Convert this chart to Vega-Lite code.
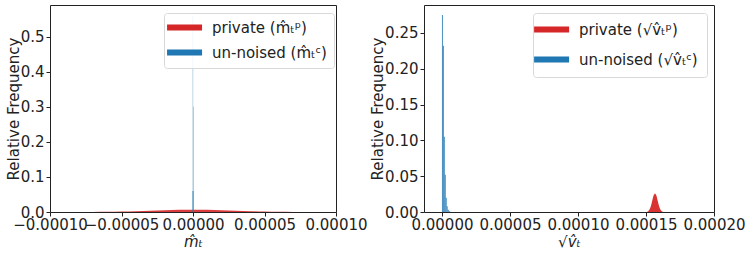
{
  "$schema": "https://vega.github.io/schema/vega-lite/v6.json",
  "padding": {"left": 5, "top": 4, "right": 0, "bottom": 0},
  "background": "white",
  "config": {
    "font": "DejaVu Sans",
    "view": {"stroke": "#222", "strokeWidth": 1},
    "axis": {"grid": false, "domain": false, "tickColor": "#222", "tickSize": 4, "labelFontSize": 15, "titleFontSize": 15, "labelColor": "#222", "titleColor": "#222", "titleFontWeight": "normal", "labelFlush": false, "labelOverlap": false},
    "legend": {"labelFontSize": 15, "labelColor": "#222", "strokeColor": "#d8d8d8", "fillColor": "rgba(255,255,255,0.8)", "cornerRadius": 3, "orient": "none", "symbolSize": 49, "symbolOpacity": 1, "title": null, "symbolStrokeWidth": 0}
  },
  "spacing": 88,
  "bounds": "flush",
  "resolve": {"scale": {"color": "independent"}, "legend": {"color": "independent"}},
  "hconcat": [
    {
      "width": 286,
      "height": 207,
      "layer": [
        {
          "data": {"values": [
            {"x": -0.00009, "freq": 0.00002, "series": "private (m̂ₜᵖ)"},
            {"x": -0.00008, "freq": 0.00008, "series": "private (m̂ₜᵖ)"},
            {"x": -0.00007, "freq": 0.00023, "series": "private (m̂ₜᵖ)"},
            {"x": -0.00006, "freq": 0.00055, "series": "private (m̂ₜᵖ)"},
            {"x": -0.00005, "freq": 0.0012, "series": "private (m̂ₜᵖ)"},
            {"x": -0.00004, "freq": 0.0022, "series": "private (m̂ₜᵖ)"},
            {"x": -0.00003, "freq": 0.0035, "series": "private (m̂ₜᵖ)"},
            {"x": -0.00002, "freq": 0.0049, "series": "private (m̂ₜᵖ)"},
            {"x": -0.00001, "freq": 0.0061, "series": "private (m̂ₜᵖ)"},
            {"x": 0.0, "freq": 0.0065, "series": "private (m̂ₜᵖ)"},
            {"x": 0.00001, "freq": 0.0061, "series": "private (m̂ₜᵖ)"},
            {"x": 0.00002, "freq": 0.0049, "series": "private (m̂ₜᵖ)"},
            {"x": 0.00003, "freq": 0.0035, "series": "private (m̂ₜᵖ)"},
            {"x": 0.00004, "freq": 0.0022, "series": "private (m̂ₜᵖ)"},
            {"x": 0.00005, "freq": 0.0012, "series": "private (m̂ₜᵖ)"},
            {"x": 0.00006, "freq": 0.00055, "series": "private (m̂ₜᵖ)"},
            {"x": 0.00007, "freq": 0.00023, "series": "private (m̂ₜᵖ)"},
            {"x": 0.00008, "freq": 0.00008, "series": "private (m̂ₜᵖ)"},
            {"x": 0.00009, "freq": 0.00002, "series": "private (m̂ₜᵖ)"}
          ]},
          "mark": {"type": "area", "opacity": 0.9, "interpolate": "monotone"},
          "encoding": {
            "x": {"field": "x", "type": "quantitative", "scale": {"domain": [-0.0001, 0.0001], "nice": false, "zero": false}, "axis": {"values": [-0.0001, -0.00005, 0, 0.00005, 0.0001], "format": ".5f", "title": "m̂ₜ", "titleFontStyle": "italic", "labelPadding": 1, "titlePadding": 2}},
            "y": {"field": "freq", "type": "quantitative", "scale": {"domain": [0, 0.59], "nice": false}, "axis": {"values": [0, 0.1, 0.2, 0.3, 0.4, 0.5], "format": ".1f", "title": "Relative Frequency", "labelPadding": 2, "titlePadding": -1}},
            "color": {"field": "series", "type": "nominal", "scale": {"domain": ["private (m̂ₜᵖ)", "un-noised (m̂ₜᶜ)"], "range": ["#d62728", "#1f77b4"]}, "legend": {"padding": 7, "rowPadding": 9, "legendX": 114, "legendY": 8, "symbolType": "M-3.27,-0.85H6.73V0.85H-3.27Z", "labelOffset": 26}}
          }
        },
        {
          "data": {"values": [
            {"x": -0.0000004, "x2": 0.0000004, "freq": 0.06, "series": "un-noised (m̂ₜᶜ)"},
            {"x": -0.0000002, "x2": 0.0000001, "freq": 0.56, "series": "un-noised (m̂ₜᶜ)"},
            {"x": 0.0000001, "x2": 0.0000004, "freq": 0.30, "series": "un-noised (m̂ₜᶜ)"}
          ]},
          "mark": {"type": "rect", "opacity": 0.7},
          "encoding": {
            "x": {"field": "x", "type": "quantitative"},
            "x2": {"field": "x2"},
            "y": {"field": "freq", "type": "quantitative"},
            "y2": {"datum": 0},
            "color": {"field": "series", "type": "nominal"}
          }
        }
      ]
    },
    {
      "width": 290,
      "height": 207,
      "layer": [
        {
          "data": {"values": [
            {"x": 0.0001506, "freq": 0.0003, "series": "private (√v̂ₜᵖ)"},
            {"x": 0.0001516, "freq": 0.00114, "series": "private (√v̂ₜᵖ)"},
            {"x": 0.0001526, "freq": 0.0035, "series": "private (√v̂ₜᵖ)"},
            {"x": 0.0001536, "freq": 0.0084, "series": "private (√v̂ₜᵖ)"},
            {"x": 0.0001546, "freq": 0.0158, "series": "private (√v̂ₜᵖ)"},
            {"x": 0.0001556, "freq": 0.0229, "series": "private (√v̂ₜᵖ)"},
            {"x": 0.0001566, "freq": 0.026, "series": "private (√v̂ₜᵖ)"},
            {"x": 0.0001576, "freq": 0.0229, "series": "private (√v̂ₜᵖ)"},
            {"x": 0.0001586, "freq": 0.0158, "series": "private (√v̂ₜᵖ)"},
            {"x": 0.0001596, "freq": 0.0084, "series": "private (√v̂ₜᵖ)"},
            {"x": 0.0001606, "freq": 0.0035, "series": "private (√v̂ₜᵖ)"},
            {"x": 0.0001616, "freq": 0.00114, "series": "private (√v̂ₜᵖ)"},
            {"x": 0.0001626, "freq": 0.0003, "series": "private (√v̂ₜᵖ)"}
          ]},
          "mark": {"type": "area", "opacity": 0.95, "interpolate": "monotone"},
          "encoding": {
            "x": {"field": "x", "type": "quantitative", "scale": {"domain": [-0.0000132, 0.0002], "nice": false, "zero": false}, "axis": {"values": [0, 0.00005, 0.0001, 0.00015, 0.0002], "format": ".5f", "title": "√v̂ₜ", "titleFontStyle": "italic", "labelPadding": 1, "titlePadding": 2}},
            "y": {"field": "freq", "type": "quantitative", "scale": {"domain": [0, 0.289], "nice": false}, "axis": {"values": [0, 0.05, 0.1, 0.15, 0.2, 0.25], "format": ".2f", "title": "Relative Frequency", "labelPadding": 2, "titlePadding": -1}},
            "color": {"field": "series", "type": "nominal", "scale": {"domain": ["private (√v̂ₜᵖ)", "un-noised (√v̂ₜᶜ)"], "range": ["#d62728", "#1f77b4"]}, "legend": {"padding": 9, "rowPadding": 14, "legendX": 109, "legendY": 8, "symbolType": "M-4.4,-0.85H5.6V0.85H-4.4Z", "labelOffset": 22}}
          }
        },
        {
          "data": {"values": [
            {"x": 0.0, "x2": 0.0000007, "freq": 0.275, "series": "un-noised (√v̂ₜᶜ)"},
            {"x": 0.0000007, "x2": 0.0000014, "freq": 0.232, "series": "un-noised (√v̂ₜᶜ)"},
            {"x": 0.0000014, "x2": 0.0000021, "freq": 0.105, "series": "un-noised (√v̂ₜᶜ)"},
            {"x": 0.0000021, "x2": 0.0000028, "freq": 0.052, "series": "un-noised (√v̂ₜᶜ)"},
            {"x": 0.0000028, "x2": 0.0000035, "freq": 0.02, "series": "un-noised (√v̂ₜᶜ)"},
            {"x": 0.0000035, "x2": 0.0000042, "freq": 0.008, "series": "un-noised (√v̂ₜᶜ)"},
            {"x": 0.0000042, "x2": 0.000005, "freq": 0.003, "series": "un-noised (√v̂ₜᶜ)"},
            {"x": 0.000005, "x2": 0.000006, "freq": 0.001, "series": "un-noised (√v̂ₜᶜ)"}
          ]},
          "mark": {"type": "rect", "opacity": 0.85},
          "encoding": {
            "x": {"field": "x", "type": "quantitative"},
            "x2": {"field": "x2"},
            "y": {"field": "freq", "type": "quantitative"},
            "y2": {"datum": 0},
            "color": {"field": "series", "type": "nominal"}
          }
        }
      ]
    }
  ]
}
